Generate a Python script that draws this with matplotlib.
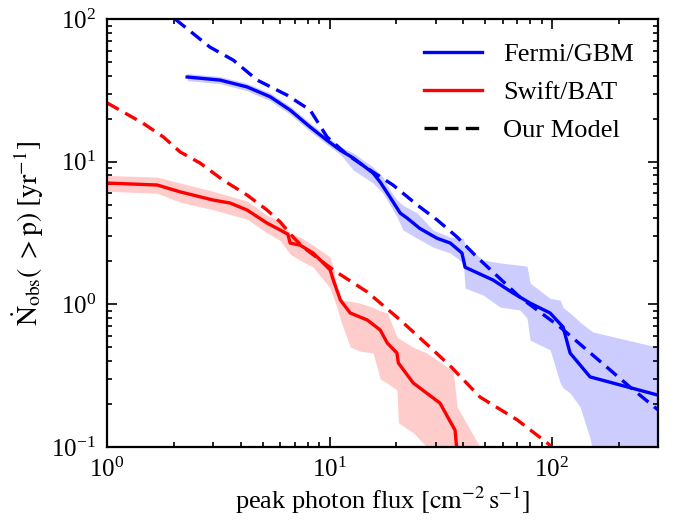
import matplotlib
matplotlib.use('Agg')
import matplotlib.pyplot as plt

plt.rcParams['font.family'] = 'serif'
plt.rcParams['font.serif'] = ['Liberation Serif', 'DejaVu Serif']
plt.rcParams['mathtext.fontset'] = 'stix'

# ---------------- data ----------------
fermi_x = [2.29, 3.22, 4.26, 5.41, 6.65, 8.18, 9.75, 11.2, 12.8, 15.7, 16.9, 18.7, 20.8, 22.3,
           25.5, 30.5, 34.9, 39.4, 40.7, 54.4, 66.9, 79.8, 98.2, 112.3, 120.7, 148.5, 300]
fermi_y = [39.2, 37.3, 33.4, 28.5, 23.0, 17.5, 14.1, 12.0, 10.6, 8.32, 7.19, 5.65, 4.36, 4.03,
           3.4, 2.9, 2.69, 2.29, 1.82, 1.48, 1.20, 1.02, 0.869, 0.693, 0.456, 0.31, 0.231]

fermi_band_x = [2.29, 3.22, 4.26, 5.41, 6.65, 8.18, 9.75, 11.2, 12.8, 15.7, 17.4, 18.7, 20.1,
                21.4, 24.8, 29.2, 34.9, 40.0, 40.7, 49.1, 58.5, 71.9, 77.3, 79.8, 98.2,
                108.9, 112.3, 120.7, 133.9, 148.5, 153.2, 200, 300]
fermi_band_hi = [41.5, 39.5, 35.4, 30.3, 24.5, 18.7, 15.0, 12.7, 11.5, 9.16, 7.8, 6.3, 5.4,
                 4.95, 4.36, 3.32, 2.96, 2.9, 2.6, 2.04, 1.95, 1.88, 1.85, 1.41, 1.1,
                 1.07, 0.95, 0.87, 0.75, 0.661, 0.64, 0.58, 0.50]
fermi_band_lo = [37.0, 35.2, 31.4, 26.7, 21.5, 16.3, 13.2, 11.2, 8.73, 7.08, 6.0, 5.0, 4.1,
                 3.32, 2.9, 2.52, 2.29, 1.95, 1.30, 1.16, 0.957, 0.912, 0.8, 0.562, 0.479,
                 0.281, 0.26, 0.239, 0.191, 0.115, 0.09, 0.05, 0.05]

fermi_model_x = [2.02, 2.9, 3.69, 4.73, 6.43, 8.18, 9.75, 12.0, 15.7, 19.3, 24.8, 30.5,
                 37.5, 46.1, 71.9, 108.9, 224.7, 300]
fermi_model_y = [100, 63.5, 51.5, 37.3, 29.3, 23.0, 14.9, 11.2, 8.45, 6.86, 4.97, 3.90,
                 2.96, 2.14, 1.12, 0.693, 0.263, 0.182]

swift_x = [1.0, 1.68, 2.13, 3.0, 3.57, 4.26, 5.24, 6.0, 6.5, 6.65, 7.37, 8.44, 9.37,
           10.07, 10.4, 11.2, 12.4, 14.8, 16.9, 18.2, 20.1, 20.4, 23.8, 31.4, 36.7, 37.5]
swift_y = [7.08, 6.86, 6.14, 5.38, 5.13, 4.58, 3.71, 3.32, 3.1, 2.69, 2.6, 2.29, 1.95,
           1.74, 1.48, 1.07, 0.869, 0.776, 0.661, 0.535, 0.456, 0.388, 0.281, 0.203, 0.131, 0.09]

swift_band_x = [1.0, 1.68, 2.13, 3.0, 4.26, 5.24, 6.0, 6.65, 7.37, 8.44,
                10.07, 10.4, 10.8, 11.2, 12.4, 13.7, 15.7, 16.9, 18.2, 20.1, 20.4, 23.8,
                27.4, 36.0, 37.5, 47.5]
swift_band_hi = [8.0, 7.8, 7.08, 6.2, 5.3, 4.2, 3.85, 3.15, 2.96, 2.6,
                 2.14, 1.82, 1.33, 1.07, 1.05, 1.02, 0.95, 0.9, 0.869, 0.59, 0.58, 0.5,
                 0.456, 0.34, 0.191, 0.1]
swift_band_lo = [6.2, 6.0, 5.2, 4.6, 3.95, 3.16, 2.8, 2.25, 2.04, 1.82,
                 1.3, 1.12, 0.95, 0.776, 0.502, 0.47, 0.456, 0.30, 0.28, 0.251, 0.148, 0.126,
                 0.1, 0.08, 0.08, 0.08]

swift_model_x = [1.0, 1.45, 1.79, 2.13, 2.62, 3.32, 4.26, 5.24, 6.0, 6.86, 7.6, 10.4, 14.8,
                 20.8, 29.2, 34.9, 47.5, 69.8, 95.1, 100]
swift_model_y = [25.8, 18.6, 14.9, 11.7, 9.77, 7.43, 5.83, 4.58, 3.78, 2.96, 2.52, 1.74, 1.22,
                 0.776, 0.479, 0.37, 0.224, 0.155, 0.107, 0.1]

legend_labels = ['Fermi/GBM', 'Swift/BAT', 'Our Model']

# ---------------- plot ----------------
fig = plt.figure(figsize=(6.78, 5.23), dpi=100)
ax = fig.add_axes([0.158, 0.1453, 0.8125, 0.8184])

blue = '#0000ff'
red = '#ff0000'
dash = (0, (4.0, 2.2))
lw = 2.4

ax.fill_between(fermi_band_x, fermi_band_lo, fermi_band_hi, color=blue, alpha=0.2, lw=0)
ax.fill_between(swift_band_x, swift_band_lo, swift_band_hi, color=red, alpha=0.2, lw=0)
ax.plot(fermi_x, fermi_y, color=blue, lw=lw, label=legend_labels[0])
ax.plot(swift_x, swift_y, color=red, lw=lw, label=legend_labels[1])
ax.plot(fermi_model_x, fermi_model_y, color=blue, lw=lw, linestyle=dash)
ax.plot(swift_model_x, swift_model_y, color=red, lw=lw, linestyle=dash)
ax.plot([], [], color='black', lw=lw, linestyle=dash, label=legend_labels[2])

ax.set_xscale('log')
ax.set_yscale('log')
ax.set_xlim(1, 300)
ax.set_ylim(0.1, 100)

for s in ax.spines.values():
    s.set_linewidth(1.6)
ax.tick_params(which='both', direction='in', top=True, right=True, labelsize=18, width=1.2)
ax.tick_params(which='major', length=7, pad=8)
ax.tick_params(which='minor', length=3.5)

ax.set_xlabel(r'peak photon flux $[\mathrm{cm}^{-2}\,\mathrm{s}^{-1}]$', fontsize=19, labelpad=2)
ax.set_ylabel(r'$\dot{\mathrm{N}}_{\mathrm{obs}}(\;>\mathrm{p})\;[\mathrm{yr}^{-1}]$', fontsize=20, labelpad=4)

ax.legend(loc='upper right', frameon=False, fontsize=19, handlelength=2.2,
          handletextpad=0.8, labelspacing=0.55, borderaxespad=0.5)

fig.savefig('out.png', dpi=100)
